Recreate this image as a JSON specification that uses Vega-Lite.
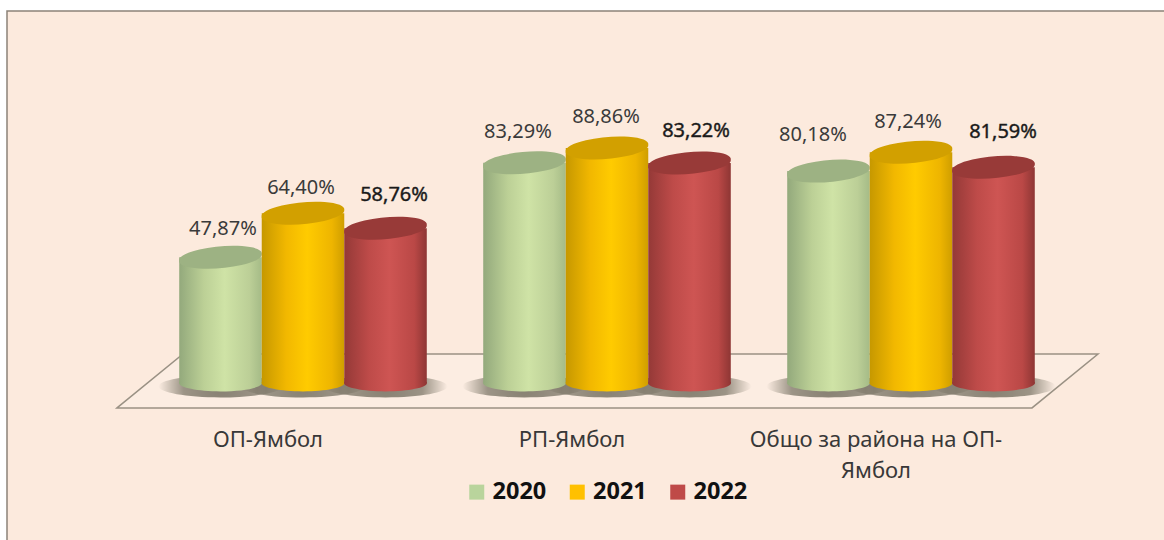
{
"$schema":"https://vega.github.io/schema/vega-lite/v6.json",
"width":1160,"height":532,
"autosize":{"type":"none"},
"padding":{"left":7,"top":11,"right":0,"bottom":0},
"background":"#ffffff",
"view":{"fill":"#FCEADD","stroke":"#8C8278","strokeWidth":1.5},
"config":{"font":"Noto Sans"},
"datasets":{
"bars":[
{"group":"ОП-Ямбол","year":"2020","value":47.87,"label":"47,87%"},
{"group":"ОП-Ямбол","year":"2021","value":64.40,"label":"64,40%"},
{"group":"ОП-Ямбол","year":"2022","value":58.76,"label":"58,76%"},
{"group":"РП-Ямбол","year":"2020","value":83.29,"label":"83,29%"},
{"group":"РП-Ямбол","year":"2021","value":88.86,"label":"88,86%"},
{"group":"РП-Ямбол","year":"2022","value":83.22,"label":"83,22%"},
{"group":"Общо за района на ОП-Ямбол","year":"2020","value":80.18,"label":"80,18%"},
{"group":"Общо за района на ОП-Ямбол","year":"2021","value":87.24,"label":"87,24%"},
{"group":"Общо за района на ОП-Ямбол","year":"2022","value":81.59,"label":"81,59%"}
],
"floor":[
{"pos":117,"front":-8.6,"back":-8.6},
{"pos":183,"front":-8.6,"back":11.6},
{"pos":1032,"front":-8.6,"back":11.6},
{"pos":1098,"front":11.6,"back":11.6}
]},
"resolve":{"scale":{"x":"independent"}},
"layer":[
{"data":{"name":"floor"},
 "mark":{"type":"area","fill":"#FCEDE2","stroke":"#9A9184","strokeWidth":1.5,"line":false},
 "encoding":{
  "x":{"field":"pos","type":"quantitative","scale":{"domain":[7,1167],"nice":false,"zero":false},"axis":null},
  "y":{"field":"back","type":"quantitative","scale":{"domain":[-59.24,140.2],"nice":false,"zero":false},"axis":null},
  "y2":{"field":"front"}}},
{"data":{"name":"bars"},
 "encoding":{
  "x":{"field":"group","type":"nominal","sort":null,"scale":{"range":[144,1056],"paddingInner":0,"paddingOuter":0},
   "axis":{"title":null,"orient":"bottom","domain":false,"ticks":false,"grid":false,"labelAngle":0,"offset":-104,"labelPadding":0,"labelBaseline":"middle","labelAlign":"center","labelFontSize":22,"labelColor":"#383838","labelOffset":-35,"labelLimit":400,"labelLineHeight":31,"labelOverlap":false,
    "labelExpr":"datum.label == 'Общо за района на ОП-Ямбол' ? ['Общо за района на ОП-','Ямбол'] : datum.label"}},
  "xOffset":{"field":"year","type":"nominal","scale":{"domain":["2020","2021","2022"],"paddingInner":0,"paddingOuter":0.342}},
  "y":{"field":"value","type":"quantitative","scale":{"domain":[-59.24,140.2],"nice":false,"zero":false},"axis":null}
 },
 "layer":[
  {"mark":{"type":"point","filled":true,"opacity":0,"size":4},
   "encoding":{"color":{"field":"year","type":"nominal","scale":{"domain":["2020","2021","2022"],"range":["#B9D49C","#FFC000","#BF4A48"]},
    "legend":{"title":null,"orient":"none","legendX":458,"legendY":469,"direction":"horizontal","columns":3,"symbolType":"square","symbolSize":225,"symbolOpacity":1,"symbolStrokeWidth":0,"labelFont":"Noto Sans","labelFontSize":23.5,"labelFontWeight":"bold","labelColor":"#111111","labelOffset":4,"columnPadding":18.5}}}},
  {"mark":{"type":"point","filled":true,"opacity":1,"size":15376,"shape":"M-1,0A1,0.18,0,1,1,1,0A1,0.18,0,1,1,-1,0Z",
    "fill":{"gradient":"radial","stops":[{"offset":0,"color":"rgba(105,100,85,0.8)"},{"offset":0.6,"color":"rgba(105,100,85,0.65)"},{"offset":0.85,"color":"rgba(105,100,85,0.25)"},{"offset":1,"color":"rgba(105,100,85,0)"}]}},
   "encoding":{"y":{"datum":-0.5}}},
  {"transform":[{"filter":"datum.year=='2020'"}],"layer":[
   {"mark":{"type":"point","filled":true,"opacity":1,"size":6889,"shape":"M-1,0A1,0.2,0,1,1,1,0A1,0.2,0,1,1,-1,0Z",
    "fill":{"gradient":"linear","x1":0,"x2":1,"y1":0,"y2":0,"stops":[{"offset":0,"color":"#93A97C"},{"offset":0.3,"color":"#BCD096"},{"offset":0.55,"color":"#CFE3A6"},{"offset":0.85,"color":"#BCCF97"},{"offset":1,"color":"#A5BB87"}]}},
    "encoding":{"y":{"datum":0.7}}},
   {"mark":{"type":"bar","fill":{"gradient":"linear","x1":0,"x2":1,"y1":0,"y2":0,"stops":[{"offset":0,"color":"#93A97C"},{"offset":0.3,"color":"#BCD096"},{"offset":0.55,"color":"#CFE3A6"},{"offset":0.85,"color":"#BCCF97"},{"offset":1,"color":"#A5BB87"}]}},
    "encoding":{"y2":{"datum":0.7}}},
   {"mark":{"type":"point","filled":true,"opacity":1,"size":6889,"fill":"#9DB283","shape":"M-0.995,0.08A1,0.25,-5,1,1,0.995,-0.08A1,0.25,-5,1,1,-0.995,0.08Z"}}
  ]},
  {"transform":[{"filter":"datum.year=='2021'"}],"layer":[
   {"mark":{"type":"point","filled":true,"opacity":1,"size":6889,"shape":"M-1,0A1,0.2,0,1,1,1,0A1,0.2,0,1,1,-1,0Z",
    "fill":{"gradient":"linear","x1":0,"x2":1,"y1":0,"y2":0,"stops":[{"offset":0,"color":"#C69800"},{"offset":0.3,"color":"#F2B800"},{"offset":0.55,"color":"#FFCB00"},{"offset":0.85,"color":"#EEB500"},{"offset":1,"color":"#CF9E00"}]}},
    "encoding":{"y":{"datum":0.7}}},
   {"mark":{"type":"bar","fill":{"gradient":"linear","x1":0,"x2":1,"y1":0,"y2":0,"stops":[{"offset":0,"color":"#C69800"},{"offset":0.3,"color":"#F2B800"},{"offset":0.55,"color":"#FFCB00"},{"offset":0.85,"color":"#EEB500"},{"offset":1,"color":"#CF9E00"}]}},
    "encoding":{"y2":{"datum":0.7}}},
   {"mark":{"type":"point","filled":true,"opacity":1,"size":6889,"fill":"#D2A000","shape":"M-0.995,0.08A1,0.25,-5,1,1,0.995,-0.08A1,0.25,-5,1,1,-0.995,0.08Z"}}
  ]},
  {"transform":[{"filter":"datum.year=='2022'"}],"layer":[
   {"mark":{"type":"point","filled":true,"opacity":1,"size":6889,"shape":"M-1,0A1,0.2,0,1,1,1,0A1,0.2,0,1,1,-1,0Z",
    "fill":{"gradient":"linear","x1":0,"x2":1,"y1":0,"y2":0,"stops":[{"offset":0,"color":"#943937"},{"offset":0.3,"color":"#BE4B49"},{"offset":0.55,"color":"#CE5553"},{"offset":0.85,"color":"#BA4846"},{"offset":1,"color":"#8E3634"}]}},
    "encoding":{"y":{"datum":0.7}}},
   {"mark":{"type":"bar","fill":{"gradient":"linear","x1":0,"x2":1,"y1":0,"y2":0,"stops":[{"offset":0,"color":"#943937"},{"offset":0.3,"color":"#BE4B49"},{"offset":0.55,"color":"#CE5553"},{"offset":0.85,"color":"#BA4846"},{"offset":1,"color":"#8E3634"}]}},
    "encoding":{"y2":{"datum":0.7}}},
   {"mark":{"type":"point","filled":true,"opacity":1,"size":6889,"fill":"#983A38","shape":"M-0.995,0.08A1,0.25,-5,1,1,0.995,-0.08A1,0.25,-5,1,1,-0.995,0.08Z"}}
  ]},
  {"transform":[{"filter":"datum.label=='47,87%'"}],"mark":{"type":"text","dx":2.5,"dy":-28,"fontSize":20,"fill":"#3A3A3A"},"encoding":{"text":{"field":"label"}}},
  {"transform":[{"filter":"datum.label=='64,40%'"}],"mark":{"type":"text","dx":-2,"dy":-25,"fontSize":20,"fill":"#3A3A3A"},"encoding":{"text":{"field":"label"}}},
  {"transform":[{"filter":"datum.label=='58,76%'"}],"mark":{"type":"text","dx":8.5,"dy":-33,"fontSize":20,"fill":"#1A1A1A","stroke":"#1A1A1A","strokeWidth":0.4},"encoding":{"text":{"field":"label"}}},
  {"transform":[{"filter":"datum.label=='83,29%'"}],"mark":{"type":"text","dx":-6.5,"dy":-31,"fontSize":20,"fill":"#3A3A3A"},"encoding":{"text":{"field":"label"}}},
  {"transform":[{"filter":"datum.label=='88,86%'"}],"mark":{"type":"text","dx":-1,"dy":-31,"fontSize":20,"fill":"#3A3A3A"},"encoding":{"text":{"field":"label"}}},
  {"transform":[{"filter":"datum.label=='83,22%'"}],"mark":{"type":"text","dx":6.5,"dy":-32,"fontSize":20,"fill":"#1A1A1A","stroke":"#1A1A1A","strokeWidth":0.4},"encoding":{"text":{"field":"label"}}},
  {"transform":[{"filter":"datum.label=='80,18%'"}],"mark":{"type":"text","dx":-15.5,"dy":-36,"fontSize":20,"fill":"#3A3A3A"},"encoding":{"text":{"field":"label"}}},
  {"transform":[{"filter":"datum.label=='87,24%'"}],"mark":{"type":"text","dx":-3,"dy":-30,"fontSize":20,"fill":"#3A3A3A"},"encoding":{"text":{"field":"label"}}},
  {"transform":[{"filter":"datum.label=='81,59%'"}],"mark":{"type":"text","dx":9.5,"dy":-35,"fontSize":20,"fill":"#1A1A1A","stroke":"#1A1A1A","strokeWidth":0.4},"encoding":{"text":{"field":"label"}}}
 ]}
]}
